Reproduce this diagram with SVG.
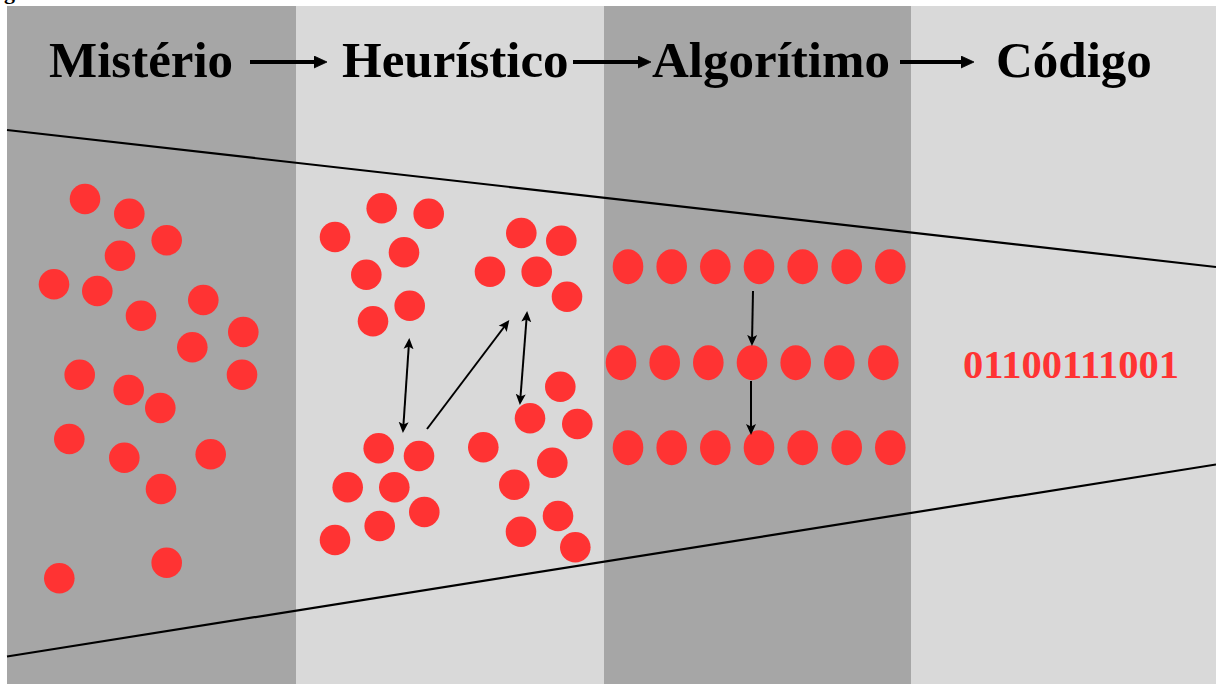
<svg xmlns="http://www.w3.org/2000/svg" width="1216" height="684" viewBox="0 0 1216 684">
  <style>
    .dark { fill: #a6a6a6; }
    .light { fill: #d9d9d9; }
    .title { font-family: "Liberation Serif", "Times New Roman", serif; font-weight: bold; font-size: 51px; fill: #000; }
    .code { font-family: "Liberation Serif", "Times New Roman", serif; font-weight: bold; font-size: 40.5px; fill: #ff3333; }
    .dot circle, .dot ellipse { fill: #ff3333; }
    .big { stroke: #000; stroke-width: 4; fill: none; }
    .thin { stroke: #000; stroke-width: 2; fill: none; }
    .edge { stroke: #000; stroke-width: 2.2; fill: none; }
  </style>
  <defs>
    <marker id="bighead" markerUnits="userSpaceOnUse" viewBox="0 0 13 13" markerWidth="13" markerHeight="13" refX="6" refY="6.5" orient="auto">
      <path d="M0,0.5 L13,6.5 L0,12.5 z" fill="#000" stroke="#000" stroke-width="0.8" stroke-linejoin="round"/>
    </marker>
    <marker id="head" markerUnits="userSpaceOnUse" viewBox="0 0 11 11" markerWidth="11" markerHeight="11" refX="8" refY="5.5" orient="auto-start-reverse">
      <path d="M0,0.5 L11,5.5 L0,10.5 L2.5,5.5 z" fill="#000"/>
    </marker>
  </defs>

  <rect width="1216" height="684" fill="#ffffff"/>
  <text x="4" y="-1" class="title" style="font-size:22px">g</text>

  <g id="panels">
    <rect id="panel-misterio" class="dark" x="7" y="6" width="289" height="678"/>
    <rect id="panel-heuristico" class="light" x="296" y="6" width="308" height="678"/>
    <rect id="panel-algoritimo" class="dark" x="604" y="6" width="307" height="678"/>
    <rect id="panel-codigo" class="light" x="911" y="6" width="305" height="678"/>
  </g>

  <g id="funnel">
    <line class="edge" x1="7" y1="130" x2="1216" y2="267"/>
    <line class="edge" x1="7" y1="656.5" x2="1216" y2="464.5"/>
  </g>

  <g id="title-misterio"><text class="title" x="49" y="77">Mistério</text></g>
  <g id="title-heuristico"><text class="title" x="342" y="77">Heurístico</text></g>
  <g id="title-algoritimo"><text class="title" x="652" y="77">Algorítimo</text></g>
  <g id="title-codigo"><text class="title" x="996" y="77">Código</text></g>

  <g id="dots-misterio" class="dot">
    <circle cx="85" cy="199" r="15.3"/>
    <circle cx="129.3" cy="213.7" r="15.3"/>
    <circle cx="166.7" cy="240.3" r="15.3"/>
    <circle cx="120" cy="255.7" r="15.3"/>
    <circle cx="54" cy="284.3" r="15.3"/>
    <circle cx="97.3" cy="291" r="15.3"/>
    <circle cx="141" cy="315.7" r="15.3"/>
    <circle cx="203.3" cy="300" r="15.3"/>
    <circle cx="243.3" cy="332" r="15.3"/>
    <circle cx="192.3" cy="347.3" r="15.3"/>
    <circle cx="79.7" cy="374.7" r="15.3"/>
    <circle cx="242" cy="374.7" r="15.3"/>
    <circle cx="128.7" cy="390" r="15.3"/>
    <circle cx="160.3" cy="408" r="15.3"/>
    <circle cx="69.3" cy="439" r="15.3"/>
    <circle cx="124.3" cy="457.7" r="15.3"/>
    <circle cx="210.7" cy="454.3" r="15.3"/>
    <circle cx="161" cy="489" r="15.3"/>
    <circle cx="59.3" cy="578.3" r="15.3"/>
    <circle cx="166.7" cy="562.7" r="15.3"/>
  </g>

  <g id="cluster-top-left" class="dot">
    <circle cx="381.7" cy="208.3" r="15.3"/>
    <circle cx="428.7" cy="213.7" r="15.3"/>
    <circle cx="335" cy="237" r="15.3"/>
    <circle cx="404" cy="252.3" r="15.3"/>
    <circle cx="366.3" cy="274.7" r="15.3"/>
    <circle cx="409.7" cy="305.7" r="15.3"/>
    <circle cx="373" cy="321.3" r="15.3"/>
  </g>
  <g id="cluster-top-right" class="dot">
    <circle cx="521.3" cy="233" r="15.3"/>
    <circle cx="561.3" cy="240.7" r="15.3"/>
    <circle cx="490" cy="271.7" r="15.3"/>
    <circle cx="536.7" cy="271.7" r="15.3"/>
    <circle cx="567" cy="296.7" r="15.3"/>
  </g>
  <g id="cluster-bottom-left" class="dot">
    <circle cx="378.7" cy="448.3" r="15.3"/>
    <circle cx="419" cy="456" r="15.3"/>
    <circle cx="347.7" cy="487.3" r="15.3"/>
    <circle cx="394.3" cy="487.3" r="15.3"/>
    <circle cx="424.3" cy="512" r="15.3"/>
    <circle cx="379.7" cy="526" r="15.3"/>
    <circle cx="335" cy="540" r="15.3"/>
  </g>
  <g id="cluster-bottom-right" class="dot">
    <circle cx="560.3" cy="386.7" r="15.3"/>
    <circle cx="530" cy="418.3" r="15.3"/>
    <circle cx="577.3" cy="424" r="15.3"/>
    <circle cx="483.3" cy="447.3" r="15.3"/>
    <circle cx="552.3" cy="462.7" r="15.3"/>
    <circle cx="514.3" cy="484.7" r="15.3"/>
    <circle cx="558" cy="516" r="15.3"/>
    <circle cx="521" cy="531.7" r="15.3"/>
    <circle cx="575.3" cy="547.3" r="15.3"/>
  </g>

  <g id="row-1" class="dot">
    <ellipse cx="628" cy="266.7" rx="15.3" ry="17.5"/>
    <ellipse cx="671.7" cy="266.7" rx="15.3" ry="17.5"/>
    <ellipse cx="715.3" cy="266.7" rx="15.3" ry="17.5"/>
    <ellipse cx="759" cy="266.7" rx="15.3" ry="17.5"/>
    <ellipse cx="802.7" cy="266.7" rx="15.3" ry="17.5"/>
    <ellipse cx="846.7" cy="266.7" rx="15.3" ry="17.5"/>
    <ellipse cx="890.3" cy="266.7" rx="15.3" ry="17.5"/>
  </g>
  <g id="row-2" class="dot">
    <ellipse cx="621" cy="362.7" rx="15.3" ry="17.5"/>
    <ellipse cx="664.7" cy="362.7" rx="15.3" ry="17.5"/>
    <ellipse cx="708.3" cy="362.7" rx="15.3" ry="17.5"/>
    <ellipse cx="752" cy="362.7" rx="15.3" ry="17.5"/>
    <ellipse cx="795.7" cy="362.7" rx="15.3" ry="17.5"/>
    <ellipse cx="839.3" cy="362.7" rx="15.3" ry="17.5"/>
    <ellipse cx="883.3" cy="362.7" rx="15.3" ry="17.5"/>
  </g>
  <g id="row-3" class="dot">
    <ellipse cx="628" cy="447.7" rx="15.3" ry="17.5"/>
    <ellipse cx="671.7" cy="447.7" rx="15.3" ry="17.5"/>
    <ellipse cx="715.3" cy="447.7" rx="15.3" ry="17.5"/>
    <ellipse cx="759" cy="447.7" rx="15.3" ry="17.5"/>
    <ellipse cx="802.7" cy="447.7" rx="15.3" ry="17.5"/>
    <ellipse cx="846.7" cy="447.7" rx="15.3" ry="17.5"/>
    <ellipse cx="890.3" cy="447.7" rx="15.3" ry="17.5"/>
  </g>

  <g id="code-output"><text class="code" x="963" y="378">01100111001</text></g>

  <g id="connectors">
    <line class="big" x1="250" y1="62" x2="320" y2="62" marker-end="url(#bighead)"/>
    <line class="big" x1="573" y1="62" x2="644" y2="62" marker-end="url(#bighead)"/>
    <line class="big" x1="900" y1="62" x2="967" y2="62" marker-end="url(#bighead)"/>

    <line class="thin" x1="409.1" y1="341" x2="403.1" y2="430" marker-start="url(#head)" marker-end="url(#head)"/>
    <line class="thin" x1="427" y1="429" x2="507.5" y2="322.5" marker-end="url(#head)"/>
    <line class="thin" x1="526.9" y1="314" x2="520.1" y2="402" marker-start="url(#head)" marker-end="url(#head)"/>
    <line class="thin" x1="753" y1="291" x2="752" y2="343" marker-end="url(#head)"/>
    <line class="thin" x1="751" y1="381" x2="751" y2="432" marker-end="url(#head)"/>
  </g>
</svg>
